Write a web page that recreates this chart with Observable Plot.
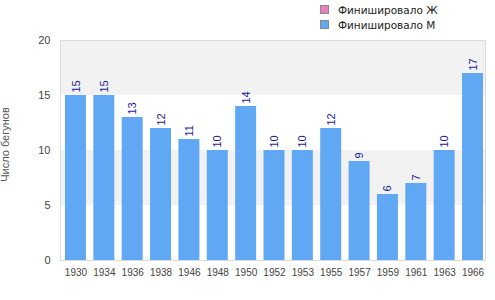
<!DOCTYPE html>
<html>
<head>
<meta charset="utf-8">
<script src="https://cdn.jsdelivr.net/npm/d3@7"></script>
<script src="https://cdn.jsdelivr.net/npm/@observablehq/plot@0.6"></script>
<style>
  html, body { margin: 0; padding: 0; background: #fff; }
  #wrap { position: relative; width: 495px; height: 300px; }
  #legend { position: absolute; left: 320px; top: 2px; font-family: "DejaVu Sans", sans-serif; font-size: 10.5px; color: #222; }
  .item { display: flex; align-items: center; height: 15px; }
  .sw { width: 7px; height: 7px; border: 1px solid #888; margin-right: 9px; }
</style>
</head>
<body>
<div id="wrap">
  <div id="legend"></div>
</div>
<script>
const years = ["1930","1934","1936","1938","1946","1948","1950","1952","1953","1955","1957","1959","1961","1963","1966"];
const finishedM = [15,15,13,12,11,10,14,10,10,12,9,6,7,10,17];
const yTicks = [0,5,10,15,20];
const legendLabels = ["Финишировало Ж", "Финишировало М"];
const legendColors = ["#e97fbf", "#60a8f4"];
const yLabel = "Число бегунов";

const data = years.map((y, i) => ({year: y, value: finishedM[i]}));
// alternating background bands between ticks (grey from top)
const bands = [];
for (let i = yTicks.length - 1; i > 0; i -= 2) bands.push({y1: yTicks[i - 1], y2: yTicks[i]});

const chart = Plot.plot({
  width: 495,
  height: 300,
  marginTop: 40,
  marginBottom: 40,
  marginLeft: 60,
  marginRight: 10,
  style: {fontFamily: "Liberation Sans, Arial, sans-serif", fontSize: "11px", color: "#444", background: "transparent"},
  x: {type: "band", domain: years, paddingInner: 0.26, paddingOuter: 0.123, align: 0.714, round: false, label: null},
  y: {domain: [0, 20], ticks: yTicks, label: null},
  marks: [
    Plot.rect(bands, {y1: "y1", y2: "y2", fill: "#f2f2f2"}),
    Plot.frame({stroke: "#dcdcdc"}),
    Plot.axisX({tickSize: 0, tickPadding: 8, fontSize: 10, label: null, fill: "#444"}),
    Plot.axisY({ticks: yTicks, tickSize: 0, tickPadding: 10, fontSize: 11, label: null, fill: "#444"}),
    Plot.barY(data, {x: "year", y: "value", fill: legendColors[1]}),
    Plot.text(data, {x: "year", y: "value", text: d => String(d.value), rotate: -90, textAnchor: "start", dy: -3, fill: "#1c1c96", fontSize: 11}),
    Plot.text([yLabel], {frameAnchor: "left", textAnchor: "middle", rotate: -90, dx: -55, dy: -6, fill: "#555", fontSize: 11})
  ]
});
document.getElementById("wrap").appendChild(chart);

const legend = document.getElementById("legend");
legendLabels.forEach((lab, i) => {
  const row = document.createElement("div");
  row.className = "item";
  const sw = document.createElement("div");
  sw.className = "sw";
  sw.style.background = legendColors[i];
  const t = document.createElement("span");
  t.textContent = lab;
  row.appendChild(sw); row.appendChild(t);
  legend.appendChild(row);
});
</script>
</body>
</html>
